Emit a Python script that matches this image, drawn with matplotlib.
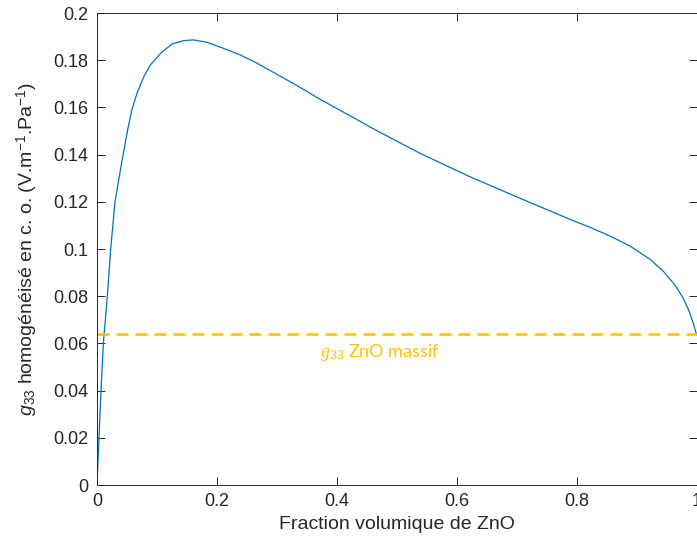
import matplotlib
matplotlib.use("Agg")
import matplotlib.pyplot as plt

# fraction volumique de ZnO vs g33 homogénéisé
frac = [0.0, 0.0033, 0.0067, 0.0106, 0.0172, 0.0228, 0.030, 0.040, 0.051,
        0.058, 0.0667, 0.078, 0.089, 0.106, 0.125, 0.1445, 0.161, 0.183,
        0.211, 0.239, 0.267, 0.30, 0.335, 0.372, 0.43, 0.455, 0.49, 0.538,
        0.62, 0.705, 0.79, 0.8217, 0.855, 0.888, 0.922, 0.9444, 0.9633,
        0.9772, 0.9872, 0.9939, 0.9983, 1.0]
g33 = [0.0, 0.02, 0.04, 0.06, 0.08, 0.10, 0.12, 0.135, 0.1504,
       0.1589, 0.166, 0.173, 0.178, 0.1829, 0.1869, 0.1883, 0.1886, 0.1876,
       0.185, 0.1822, 0.1787, 0.174, 0.169, 0.1634, 0.1553, 0.1517, 0.147, 0.1406,
       0.1308, 0.1215, 0.1124, 0.1092, 0.1055, 0.1013, 0.0956, 0.0904, 0.0847,
       0.0791, 0.0734, 0.0685, 0.0645, 0.0635]
g33_massif = 0.064

xticks = [0, 0.2, 0.4, 0.6, 0.8, 1]
xticklabels = ["0", "0.2", "0.4", "0.6", "0.8", "1"]
yticks = [0, 0.02, 0.04, 0.06, 0.08, 0.1, 0.12, 0.14, 0.16, 0.18, 0.2]
yticklabels = ["0", "0.02", "0.04", "0.06", "0.08", "0.1", "0.12", "0.14", "0.16", "0.18", "0.2"]

plt.rcParams["font.family"] = ["Liberation Sans", "DejaVu Sans"]
plt.rcParams["mathtext.fontset"] = "custom"
plt.rcParams["mathtext.rm"] = "Liberation Sans"
plt.rcParams["mathtext.it"] = "Liberation Serif:italic"
plt.rcParams["mathtext.sf"] = "Liberation Sans:italic"

fig = plt.figure(figsize=(6.97, 5.45), dpi=100)
ax = fig.add_axes([97 / 697, 60 / 545, 600 / 697, 472 / 545])

ax.plot(frac, g33, color="#0072BD", lw=0.9)
ax.axhline(g33_massif, color="#FFC000", lw=1.8, ls=(0, (4.8, 2.8)))
ax.text(0.372, 0.0562, r"$g_{33}$ ZnO massif", color="#FFC000",
        fontsize=13, family=["Lato", "DejaVu Sans"], va="center")

ax.set_xlim(0, 1)
ax.set_ylim(0, 0.2)
ax.set_xticks(xticks)
ax.set_xticklabels(xticklabels)
ax.set_yticks(yticks)
ax.set_yticklabels(yticklabels)

axis_col = "#262626"
for sp in ax.spines.values():
    sp.set_color(axis_col)
    sp.set_linewidth(0.7)
ax.tick_params(direction="in", length=6, width=0.7, colors=axis_col,
               labelsize=13, top=True, right=True, pad=6)

ax.set_xlabel("Fraction volumique de ZnO", fontsize=14, color=axis_col, labelpad=4)
ax.set_ylabel(r"$\mathsf{g}_{\mathregular{33}}$ homogénéisé en c. o. (V.m$^{\mathregular{-1}}$.Pa$^{\mathregular{-1}}$)",
              fontsize=14, color=axis_col, labelpad=10)

fig.savefig("out.png", dpi=100)
